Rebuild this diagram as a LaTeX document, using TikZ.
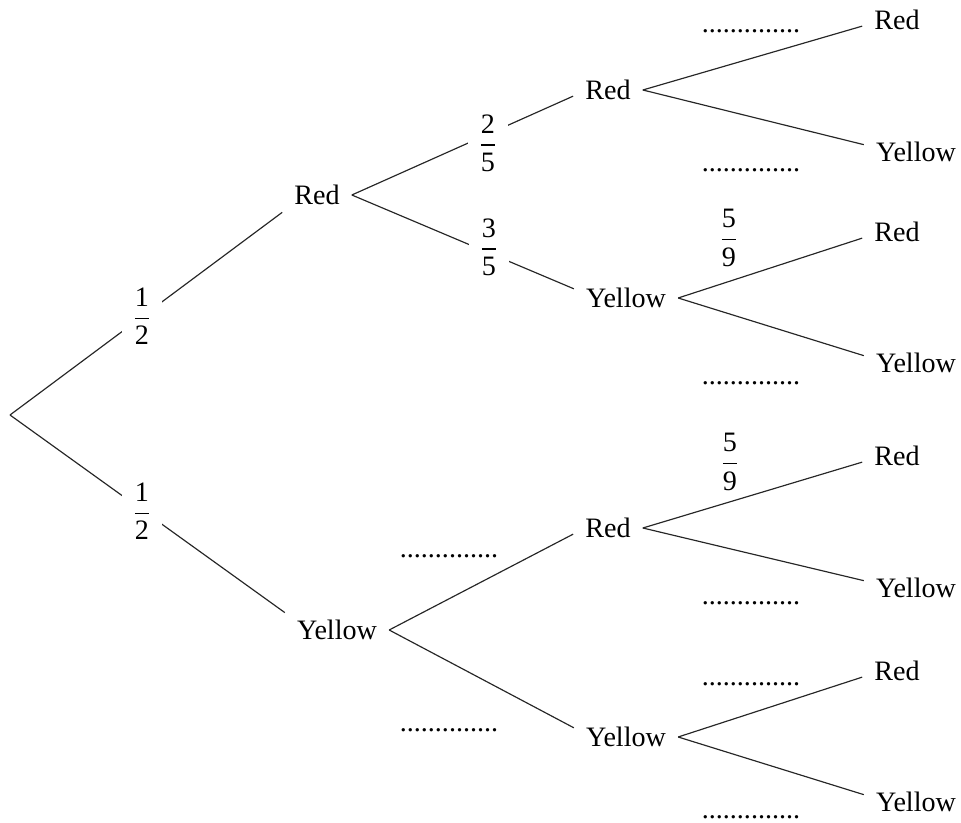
\documentclass[tikz,border=0pt]{standalone}
\usepackage{amsmath}
\usepackage{fontspec}
\setmainfont{Liberation Serif}
\newcommand{\answerdots}{..............}

\begin{document}
\begin{tikzpicture}[x=0.015cm,y=-0.015cm,
    outcome/.style={inner xsep=5pt,inner ysep=3pt,font=\fontsize{12}{14}\selectfont},
    prob/.style={fill=white,inner xsep=4.5pt,inner ysep=1pt,font=\fontsize{12}{14}\selectfont},
    blank/.style={inner sep=0pt,font=\fontsize{12}{14}\selectfont},
    branch/.style={line width=0.5pt,color=black!85}]
    \useasboundingbox (0,0) rectangle (961,823);
    % First ball
    \coordinate (root) at (10,415);
    \node[outcome] (R) at (317,195) {Red};
    \node[outcome] (Y) at (337,630) {Yellow};
    % Second ball
    \node[outcome] (RR) at (608,90) {Red};
    \node[outcome] (RY) at (626,298) {Yellow};
    \node[outcome] (YR) at (608,528) {Red};
    \node[outcome] (YY) at (626,737) {Yellow};
    % Third ball
    \node[outcome] (RRR) at (897,20) {Red};
    \node[outcome] (RRY) at (916,152) {Yellow};
    \node[outcome] (RYR) at (897,232) {Red};
    \node[outcome] (RYY) at (916,363) {Yellow};
    \node[outcome] (YRR) at (897,456) {Red};
    \node[outcome] (YRY) at (916,588) {Yellow};
    \node[outcome] (YYR) at (897,671) {Red};
    \node[outcome] (YYY) at (916,802) {Yellow};
    % Branches
    \draw[branch] (root) -- (R.south west);
    \draw[branch] (root) -- (Y.north west);
    \draw[branch] (R.east) -- (RR.190);
    \draw[branch] (R.east) -- (RY.170);
    \draw[branch] (Y.east) -- (YR.190);
    \draw[branch] (Y.east) -- (YY.170);
    \draw[branch] (RR.east) -- (RRR.190);
    \draw[branch] (RR.east) -- (RRY.172);
    \draw[branch] (RY.east) -- (RYR.190);
    \draw[branch] (RY.east) -- (RYY.172);
    \draw[branch] (YR.east) -- (YRR.190);
    \draw[branch] (YR.east) -- (YRY.172);
    \draw[branch] (YY.east) -- (YYR.190);
    \draw[branch] (YY.east) -- (YYY.172);
    % Probabilities
    \node[prob] (pR) at (142,316) {$\dfrac{\text{1}}{\text{2}}$};
    \node[prob] (pY) at (142,511) {$\dfrac{\text{1}}{\text{2}}$};
    \node[prob] (pRR) at (488,143) {$\dfrac{\text{2}}{\text{5}}$};
    \node[prob] (pRY) at (489,247) {$\dfrac{\text{3}}{\text{5}}$};
    \node[prob] (pRYR) at (729,238) {$\dfrac{\text{5}}{\text{9}}$};
    \node[prob] (pYRR) at (730,462) {$\dfrac{\text{5}}{\text{9}}$};
    % Blanks to fill in
    \node[blank] (bYR) at (449,556) {\answerdots};
    \node[blank] (bYY) at (449,730) {\answerdots};
    \node[blank] (bRRR) at (751,31) {\answerdots};
    \node[blank] (bRRY) at (751,170) {\answerdots};
    \node[blank] (bRYY) at (751,383) {\answerdots};
    \node[blank] (bYRY) at (751,603) {\answerdots};
    \node[blank] (bYYR) at (751,684) {\answerdots};
    \node[blank] (bYYY) at (751,817) {\answerdots};
\end{tikzpicture}
\end{document}
